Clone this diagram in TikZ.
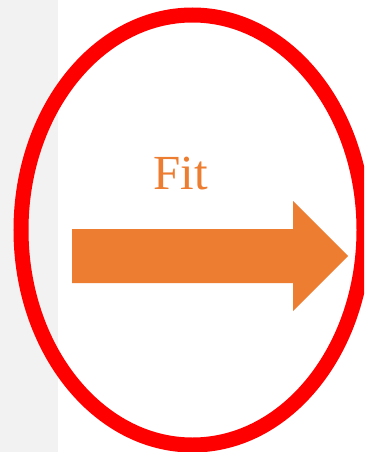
\documentclass[tikz,border=0pt]{standalone}
\usepackage{fontspec}
\setmainfont{Liberation Serif}
\definecolor{orng}{HTML}{ED7D31}
\definecolor{lgray}{HTML}{F2F2F2}
\begin{document}
\begin{tikzpicture}[x=1pt,y=-1pt,
  ring/.style={draw=red,line width=15pt},
  bigarrow/.style={fill=orng,draw=none},
  lbl/.style={text=orng,font=\fontsize{49}{49}\selectfont,inner sep=0pt,anchor=base}]
\useasboundingbox (0,0) rectangle (364,452);
\clip (0,0) rectangle (364,452);
\fill[lgray] (0,0) rectangle (58,452);
\fill[white] (58,0) rectangle (364,452);
\draw[ring] (192.5,230) ellipse [x radius=171.5, y radius=215];
\coordinate (tail) at (72,256);
\fill[bigarrow] (72,229) -- (293,229) -- (293,201) -- (348,256) -- (293,311) -- (293,283) -- (72,283) -- cycle;
\node[lbl] (fit) at (180.5,189) {Fit};
\end{tikzpicture}
\end{document}
